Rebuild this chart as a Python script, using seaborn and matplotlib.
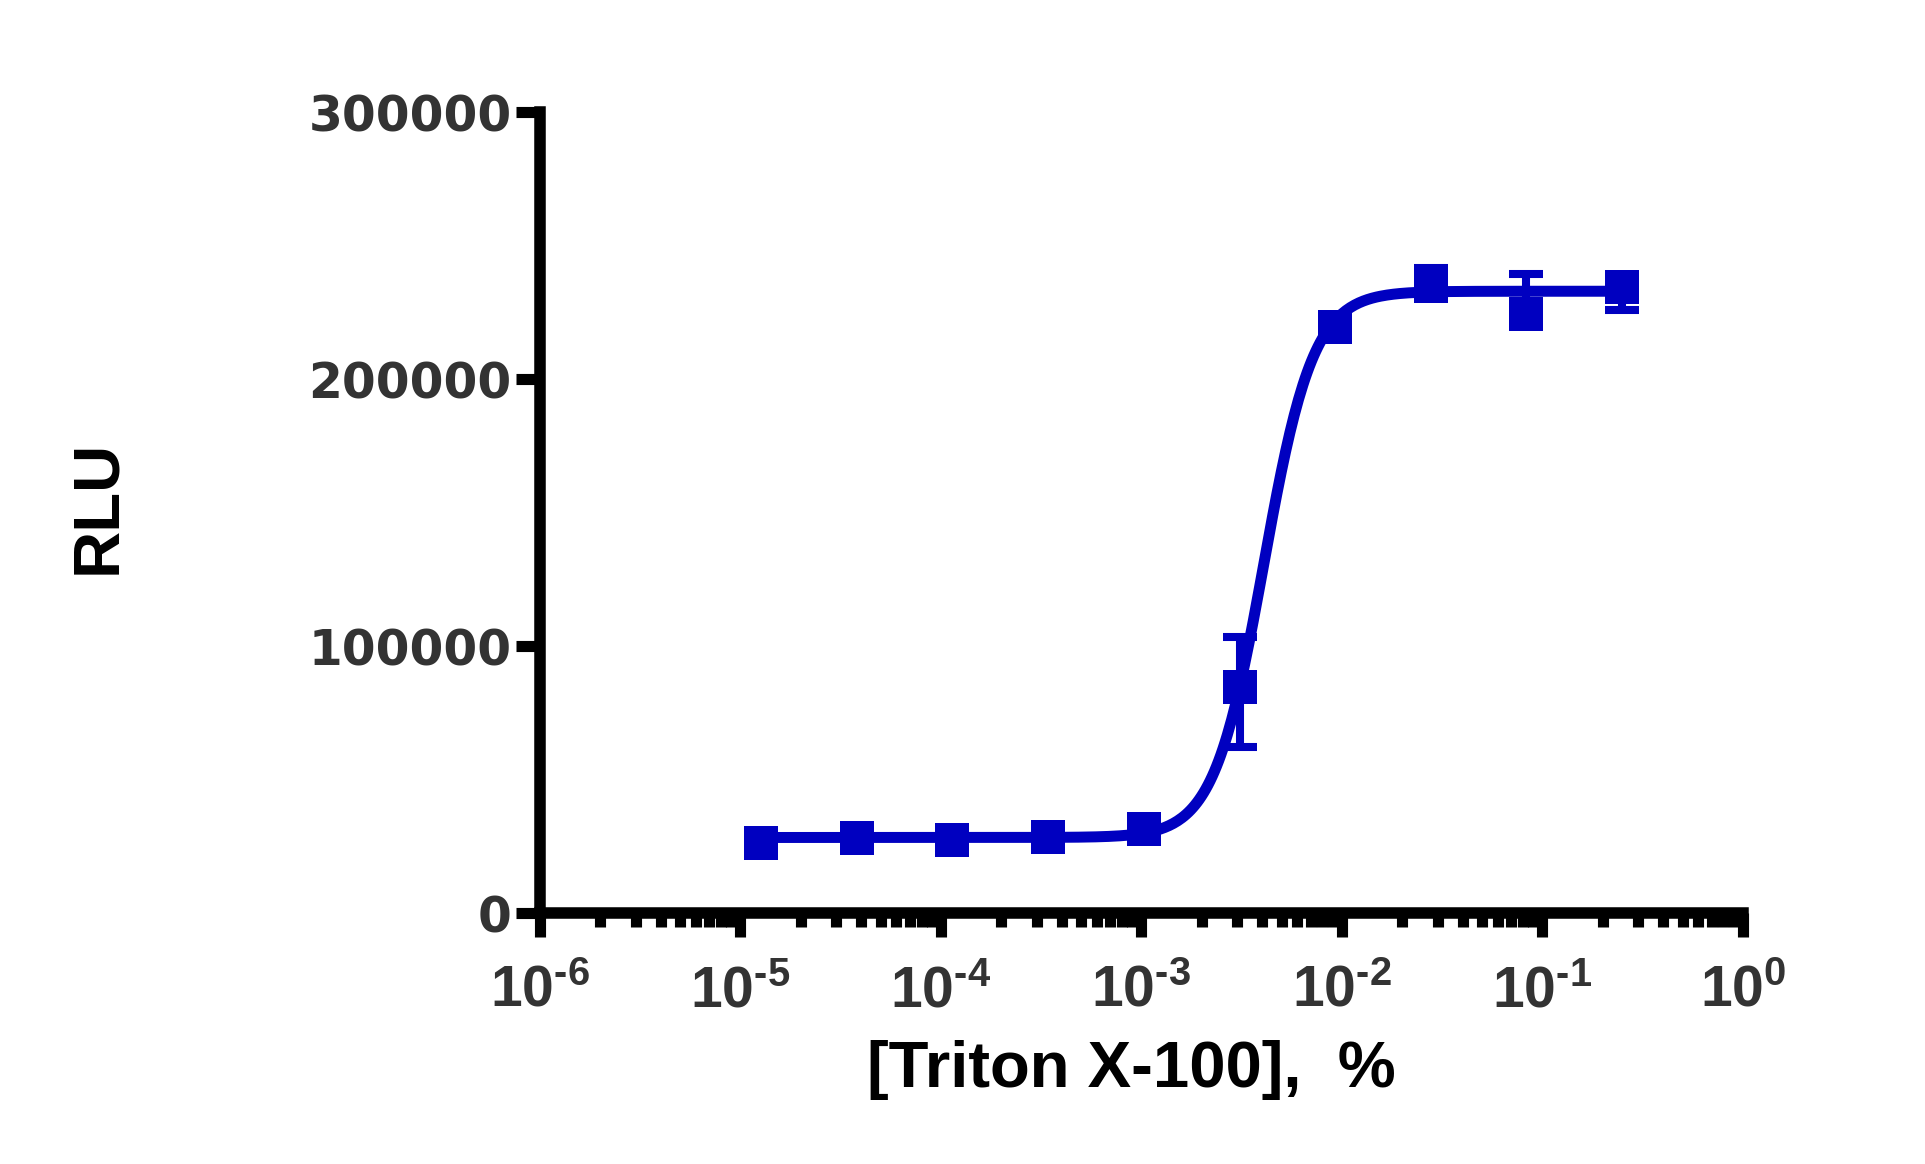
import numpy as np
import matplotlib
matplotlib.use("Agg")
import matplotlib.pyplot as plt
import matplotlib.ticker as mticker
import seaborn as sns

# Triton X-100 dose response (mean RLU, error bars)
conc = [1.27e-5, 3.81e-5, 1.14e-4, 3.43e-4, 1.03e-3, 3.09e-3, 9.26e-3, 2.78e-2, 8.33e-2, 0.25]
rlu = [26300, 28100, 27400, 28500, 31500, 84800, 219400, 234800, 224300, 234400]
err_low = [0, 0, 0, 0, 0, 22500, 0, 0, 0, 8500]
err_high = [0, 0, 0, 0, 0, 18700, 0, 6700, 15000, 0]

# 4PL fit parameters
fit_bottom = 28300
fit_top = 232900
fit_logec50 = -2.39
fit_hill = 3.5

blue = "#0000C0"

sns.set_style("ticks")
plt.rcParams["font.family"] = ["Liberation Sans", "DejaVu Sans"]
plt.rcParams["font.weight"] = "bold"
plt.rcParams["mathtext.default"] = "regular"
plt.rcParams["axes.unicode_minus"] = False

fig = plt.figure(figsize=(19.25, 11.64), dpi=100)
ax = fig.add_axes([0.2805, 0.2156, 0.6249, 0.6881])

# fitted curve
xfit = np.logspace(np.log10(conc[0]), np.log10(conc[-1]), 400)
yfit = fit_bottom + (fit_top - fit_bottom) / (1 + 10 ** ((fit_logec50 - np.log10(xfit)) * fit_hill))
sns.lineplot(x=xfit, y=yfit, ax=ax, color=blue, linewidth=7.9, sort=False, zorder=3)

# error bars + points
ax.errorbar(conc, rlu, yerr=[err_low, err_high], fmt="none", ecolor=blue,
            elinewidth=5.8, capsize=11.9, capthick=5.8, zorder=4)
sns.scatterplot(x=conc, y=rlu, ax=ax, marker="s", s=23.8 ** 2, color=blue,
                linewidth=0, zorder=5)


def pow10(v, pos):
    n = int(round(np.log10(v)))
    exp = str(n).replace("-", "\u2010")
    return "$\\mathdefault{10^{" + exp + "}}$"


ax.set_xscale("log")
ax.set_xlim(1e-6, 1)
ax.set_ylim(0, 300000)
ax.xaxis.set_major_locator(mticker.LogLocator(base=10, numticks=10))
ax.xaxis.set_major_formatter(mticker.FuncFormatter(pow10))
ax.xaxis.set_minor_locator(mticker.LogLocator(base=10, subs=np.arange(2, 10), numticks=10))
ax.xaxis.set_minor_formatter(mticker.NullFormatter())
ax.set_yticks([0, 100000, 200000, 300000])
ax.yaxis.set_major_formatter(mticker.FuncFormatter(lambda v, p: f"{v:.0f}"))

for side in ["top", "right"]:
    ax.spines[side].set_visible(False)
for side in ["left", "bottom"]:
    ax.spines[side].set_linewidth(8.3)
    ax.spines[side].set_color("black")
    ax.spines[side].set_capstyle("projecting")

ax.tick_params(axis="both", which="major", length=17.3, width=8, direction="out", color="black")
ax.tick_params(axis="x", which="minor", length=10, width=8, direction="out", color="black")
ax.tick_params(axis="y", labelsize=35, pad=3, labelcolor="#333333")
ax.tick_params(axis="x", labelsize=41, pad=20, labelcolor="#333333")
for lab in ax.get_yticklabels():
    lab.set_family("DejaVu Sans")
    lab.set_fontweight("bold")
for lab in ax.get_xticklabels():
    lab.set_fontweight("bold")

ax.set_xlabel("[Triton X-100],  %", fontsize=47, fontweight="bold", color="black")
ax.xaxis.set_label_coords(0.492, -0.158)
ax.set_ylabel("RLU", fontsize=47, fontweight="bold", color="black")
ax.yaxis.set_label_coords(-0.342, 0.507)

fig.savefig("out.png", dpi=100)
